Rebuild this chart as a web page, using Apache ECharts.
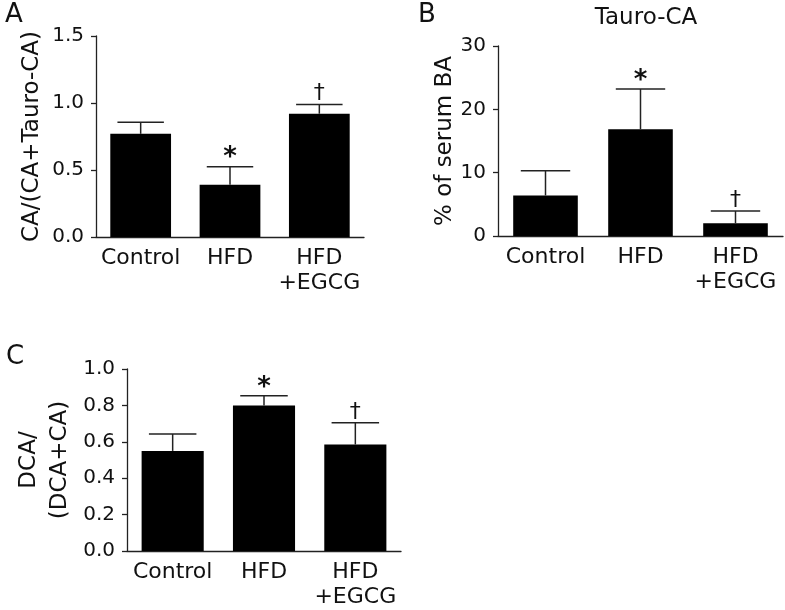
<!DOCTYPE html>
<html>
<head>
<meta charset="utf-8">
<script src="https://cdn.jsdelivr.net/npm/echarts@6/dist/echarts.min.js"></script>
<style>
  html, body { margin: 0; padding: 0; background: #fff; }
  #chart { width: 785px; height: 610px; }
</style>
</head>
<body>
<div id="chart"></div>
<script>
const categories = ['Control', 'HFD', 'HFD\n+EGCG']

// panel A: CA/(CA+Tauro-CA)
const ratioA = [0.77, 0.39, 0.92]
const errA = [0.086, 0.135, 0.068]
const signifA = ['', '*', '†']

// panel B: Tauro-CA, % of serum BA
const tauroB = [6.4, 16.85, 2.0]
const errB = [3.9, 6.35, 1.95]
const signifB = ['', '*', '†']

// panel C: DCA/(DCA+CA)
const dcaC = [0.55, 0.80, 0.585]
const errC = [0.093, 0.053, 0.119]
const signifC = ['', '*', '†']

const font = 'DejaVu Sans'
const ink = '#111'
const axisInk = '#222'

const myChart = echarts.init(document.getElementById('chart'))

function xAxisFor(gridIndex) {
  return {
    type: 'category',
    gridIndex: gridIndex,
    data: categories,
    axisLine: { lineStyle: { color: axisInk, width: 1.3 } },
    axisTick: { alignWithLabel: true, length: 5, lineStyle: { color: axisInk, width: 1.3 } },
    axisLabel: { interval: 0, color: ink, fontFamily: font, fontSize: 22, lineHeight: 25, margin: 9 }
  }
}

function yAxisFor(gridIndex, max, interval, name, nameGap, digits) {
  return {
    type: 'value',
    gridIndex: gridIndex,
    min: 0,
    max: max,
    interval: interval,
    name: name,
    nameLocation: 'middle',
    nameGap: nameGap,
    nameRotate: 90,
    nameMoveOverlap: false,
    nameTextStyle: { color: ink, fontFamily: font, fontSize: 23, lineHeight: 31 },
    splitLine: { show: false },
    axisLine: { show: true, lineStyle: { color: axisInk, width: 1.3 } },
    axisTick: { show: true, length: 5, lineStyle: { color: axisInk, width: 1.3 } },
    axisLabel: {
      color: ink, fontFamily: font, fontSize: 20, margin: 12,
      formatter: v => v.toFixed(digits)
    }
  }
}

function barSeries(idx, values) {
  return {
    type: 'bar',
    xAxisIndex: idx,
    yAxisIndex: idx,
    data: values,
    barWidth: '68%',
    itemStyle: { color: '#000' },
    silent: true
  }
}

function errorSeries(idx, values, errs, marks) {
  return {
    type: 'custom',
    xAxisIndex: idx,
    yAxisIndex: idx,
    data: values.map((v, i) => [i, v, errs[i]]),
    z: 5,
    silent: true,
    renderItem: function (params, api) {
      const i = api.value(0)
      const v = api.value(1)
      const e = api.value(2)
      const base = api.coord([i, v])
      const top = api.coord([i, v + e])
      const half = api.size([1, 0])[0] * 0.26
      const style = { stroke: '#222', lineWidth: 1.5 }
      const mark = marks[params.dataIndex]
      const children = [
        { type: 'line', shape: { x1: base[0], y1: base[1], x2: top[0], y2: top[1] }, style: style },
        { type: 'line', shape: { x1: top[0] - half, y1: top[1], x2: top[0] + half, y2: top[1] }, style: style }
      ]
      if (mark) {
        children.push({
          type: 'text',
          x: top[0],
          y: top[1] - (mark === '*' ? 8 : 11),
          style: {
            text: mark,
            fill: ink,
            font: (mark === '*' ? 'bold 26px ' : '22px ') + font,
            align: 'center',
            verticalAlign: 'middle'
          }
        })
      }
      return { type: 'group', children: children }
    }
  }
}

const letterStyle = { color: ink, fontFamily: font, fontSize: 26, fontWeight: 'normal' }

const option = {
  animation: false,
  title: [
    { text: 'A', left: 0, top: -3, textStyle: letterStyle },
    { text: 'B', left: 413, top: -3, textStyle: letterStyle },
    { text: 'C', left: 1, top: 339, textStyle: letterStyle },
    {
      text: 'Tauro-CA', left: 641, top: 2, textAlign: 'center',
      textStyle: { color: ink, fontFamily: font, fontSize: 23, fontWeight: 'normal' }
    }
  ],
  grid: [
    { left: 96, top: 36, width: 268, height: 201 },
    { left: 498, top: 46, width: 285, height: 190 },
    { left: 127, top: 369, width: 274, height: 184 }
  ],
  xAxis: [xAxisFor(0), xAxisFor(1), xAxisFor(2)],
  yAxis: [
    yAxisFor(0, 1.5, 0.5, 'CA/(CA+Tauro-CA)', 48, 1),
    yAxisFor(1, 30, 10, '% of serum BA', 37, 0),
    yAxisFor(2, 1.0, 0.2, 'DCA/\n(DCA+CA)', 51, 1)
  ],
  series: [
    barSeries(0, ratioA),
    errorSeries(0, ratioA, errA, signifA),
    barSeries(1, tauroB),
    errorSeries(1, tauroB, errB, signifB),
    barSeries(2, dcaC),
    errorSeries(2, dcaC, errC, signifC)
  ]
}

myChart.setOption(option)
</script>
</body>
</html>
